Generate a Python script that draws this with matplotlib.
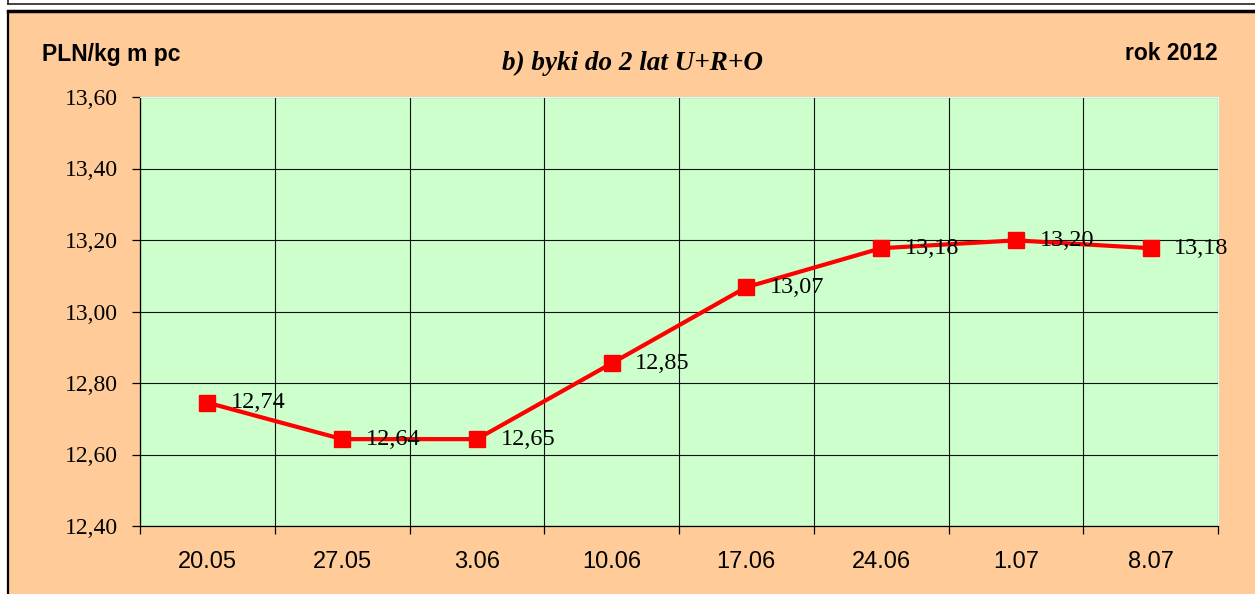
import matplotlib
matplotlib.use("Agg")
import matplotlib.pyplot as plt
from matplotlib.patches import Rectangle
from matplotlib.lines import Line2D

categories = ["20.05", "27.05", "3.06", "10.06", "17.06", "24.06", "1.07", "8.07"]
values = [12.745, 12.643, 12.643, 12.855, 13.068, 13.177, 13.199, 13.177]
value_labels = ["12,74", "12,64", "12,65", "12,85", "13,07", "13,18", "13,20", "13,18"]
yticks = [12.40, 12.60, 12.80, 13.00, 13.20, 13.40, 13.60]
ytick_labels = ["12,40", "12,60", "12,80", "13,00", "13,20", "13,40", "13,60"]

W, H = 1255, 594
fig = plt.figure(figsize=(W / 100, H / 100), dpi=100)
fig.patch.set_facecolor("white")

def fx(px):
    return px / W

def fy(py):
    return 1 - py / H

# Outer peach panel
fig.patches.append(Rectangle((fx(8), 0), 1 - fx(8) + 0.01, fy(12), transform=fig.transFigure,
                             facecolor="#FFCC99", edgecolor="none", zorder=-5))
fig.lines.append(Line2D([fx(8), fx(8)], [0, fy(12)], transform=fig.transFigure, color="black", lw=1.6, zorder=-4))
fig.lines.append(Line2D([fx(8), 1], [fy(11), fy(11)], transform=fig.transFigure, color="black", lw=2.5, zorder=-4))
# top white strip frame
fig.lines.append(Line2D([fx(8), 1], [fy(4), fy(4)], transform=fig.transFigure, color="#222222", lw=1.2, zorder=-4))
fig.lines.append(Line2D([fx(8), fx(8)], [fy(4), 1], transform=fig.transFigure, color="#222222", lw=1.2, zorder=-4))

ax = fig.add_axes([fx(140), fy(526), fx(1218) - fx(140), (526 - 97) / H])
ax.set_zorder(1)
ax.set_facecolor("#CCFFCC")
x = list(range(len(categories)))
ax.plot(x, values, color="#FF0000", lw=3, marker="s", markersize=11.5,
        markerfacecolor="#FF0000", markeredgecolor="#FF0000", zorder=5, clip_on=False)

for xi, v, lab in zip(x, values, value_labels):
    ax.annotate(lab, (xi, v), xytext=(17, 0), textcoords="offset points",
                ha="left", va="center", fontsize=17.5, family="Liberation Serif",
                color="black", zorder=6, annotation_clip=False)

ax.set_xlim(-0.5, len(categories) - 0.5)
ax.set_ylim(yticks[0], yticks[-1])
ax.set_yticks(yticks)
ax.set_yticklabels(ytick_labels, fontsize=17, family="Liberation Serif")

bounds = [i - 0.5 for i in range(len(categories) + 1)]
ax.set_xticks(bounds)
ax.set_xticklabels([""] * len(bounds))
ax.set_xticks(x, minor=True)
ax.set_xticklabels(categories, minor=True, fontsize=17, family="Liberation Sans")
ax.tick_params(axis="x", which="major", direction="out", length=6, width=0.9, color="black")
ax.tick_params(axis="x", which="minor", length=0, pad=18)
ax.tick_params(axis="y", direction="out", length=6, width=0.9, color="black", pad=10)

ax.grid(True, which="major", color="#111111", lw=0.8)
ax.set_axisbelow(True)
for side in ["top", "right"]:
    ax.spines[side].set_color("#CCFFFF")
    ax.spines[side].set_linewidth(0.8)
for side in ["left", "bottom"]:
    ax.spines[side].set_color("black")
    ax.spines[side].set_linewidth(0.9)

fig.text(fx(42), fy(55), "PLN/kg m pc", fontsize=16.5, fontweight="bold",
         family="Liberation Sans", ha="left", va="center")
fig.text(fx(633), fy(63), "b) byki do 2 lat U+R+O", fontsize=19.5, fontweight="bold",
         fontstyle="italic", family="Liberation Serif", ha="center", va="center")
fig.text(fx(1218), fy(53), "rok 2012", fontsize=16.5, fontweight="bold",
         family="Liberation Sans", ha="right", va="center")

fig.savefig("out.png", dpi=100, facecolor=fig.get_facecolor())
